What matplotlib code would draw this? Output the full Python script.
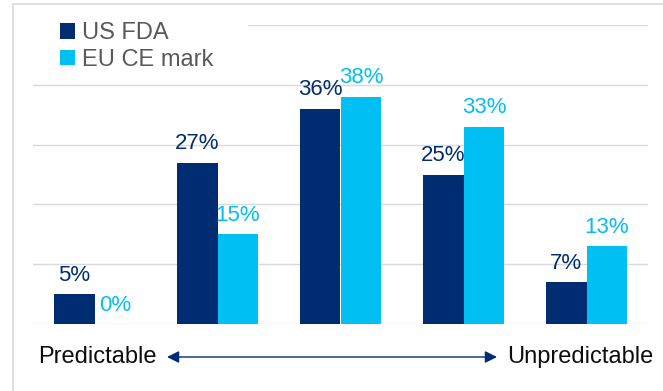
import numpy as np
import matplotlib.pyplot as plt
from matplotlib.patches import Rectangle

plt.rcParams['font.family'] = ['Liberation Sans', 'DejaVu Sans']

series = ['US FDA', 'EU CE mark']
us_fda = [5, 27, 36, 25, 7]
eu_ce = [0, 15, 38, 33, 13]

navy = '#002D72'
cyan = '#00BFF3'

fig = plt.figure(figsize=(6.63, 3.91), dpi=100)
ax = fig.add_axes([33/663, 1-324/391, 615/663, 299/391])

x = np.arange(len(us_fda))
w = 0.333
b1 = ax.bar(x - w/2, us_fda, w, color=navy, label=series[0], zorder=3)
b2 = ax.bar(x + w/2, eu_ce, w, color=cyan, label=series[1], zorder=3)

for bars, vals, c in [(b1, us_fda, navy), (b2, eu_ce, cyan)]:
    for r, v in zip(bars, vals):
        ax.annotate(f'{v}%', (r.get_x() + r.get_width()/2, v), xytext=(0, 6),
                    textcoords='offset points', ha='center', va='bottom',
                    fontsize=16, color=c, zorder=4)

ax.set_xlim(-0.5, 4.5)
ax.set_ylim(0, 50)
ax.set_yticks(range(0, 51, 10))
ax.set_xticks([])
ax.yaxis.grid(color='#D9D9D9', linewidth=1, zorder=0)
ax.tick_params(left=False, labelleft=False)
for s in ax.spines.values():
    s.set_visible(False)
ax.set_axisbelow(True)

# white patch behind legend hides the top gridline
ax.add_patch(Rectangle((0, 0.81), 0.35, 0.22, transform=ax.transAxes,
                       facecolor='white', edgecolor='none', zorder=2, clip_on=False))

leg = ax.legend(loc='upper left', bbox_to_anchor=(0.044, 1.01), frameon=False,
                fontsize=17, handlelength=0.65, handleheight=0.65,
                handletextpad=0.3, labelspacing=0.2, borderpad=0, borderaxespad=0)
for t in leg.get_texts():
    t.set_color('#595959')

# outer border
fig.patches.append(Rectangle((13/663, -0.1), 1.1, 1.1 - 4.5/391, transform=fig.transFigure,
                             fill=False, edgecolor='#D9D9D9', linewidth=1.2, figure=fig))

fig.text(97/663, 1-357/391, 'Predictable', ha='center', va='center', fontsize=17, color='#0D0D0D')
fig.text(580/663, 1-357/391, 'Unpredictable', ha='center', va='center', fontsize=17, color='#0D0D0D')
ax.annotate('', xy=(497/663, 1-357/391), xytext=(167/663, 1-357/391),
            xycoords='figure fraction', textcoords='figure fraction',
            arrowprops=dict(arrowstyle='<|-|>', color=navy, lw=1,
                            mutation_scale=18, shrinkA=0, shrinkB=0))

fig.savefig('out.png', dpi=100)
